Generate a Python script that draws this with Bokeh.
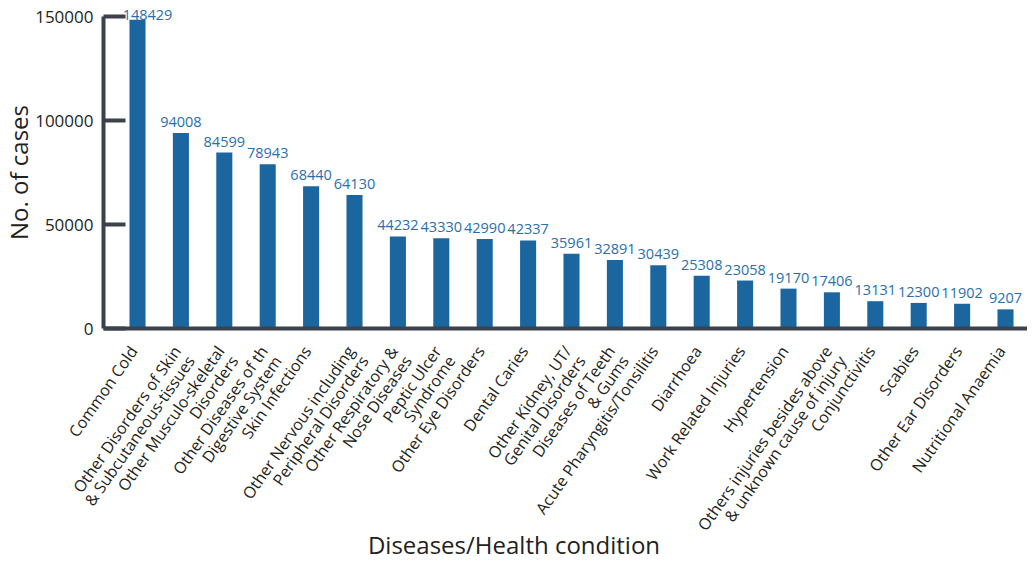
import math
from bokeh.plotting import figure
from bokeh.models import (ColumnDataSource, LabelSet, Range1d, FixedTicker,
                          NumeralTickFormatter, LinearAxis)
from bokeh.core.properties import value
from bokeh.embed import file_html
from bokeh.resources import INLINE

categories = [
    "Common Cold",
    "Other Disorders of Skin\n& Subcutaneous-tissues",
    "Other Musculo-skeletal\nDisorders",
    "Other Diseases of th\nDigestive System",
    "Skin Infections",
    "Other Nervous including\nPeripheral Disorders",
    "Other Respiratory &\nNose Diseases",
    "Peptic Ulcer\nSyndrome",
    "Other Eye Disorders",
    "Dental Caries",
    "Other Kidney, UT/\nGenital Disorders",
    "Diseases of Teeth\n& Gums",
    "Acute Pharyngitis/Tonsilitis",
    "Diarrhoea",
    "Work Related Injuries",
    "Hypertension",
    "Others injuries besides above\n& unknown cause of injury",
    "Conjunctivitis",
    "Scabies",
    "Other Ear Disorders",
    "Nutritional Anaemia",
]
cases = [148429, 94008, 84599, 78943, 68440, 64130, 44232, 43330, 42990, 42337,
         35961, 32891, 30439, 25308, 23058, 19170, 17406, 13131, 12300, 11902, 9207]
y_ticks = [0, 50000, 100000, 150000]

FONT = "Open Sans"
BAR = "#1c66a0"
LBL = "#2a6fab"
AX = "#3c4249"
TXT = "#231f20"

# layout in pixels
W, H = 1027, 562
AXIS_X_PX = 103          # where the value axis stands
FIRST_BAR_PX, LAST_BAR_PX = 137, 1005
Y0_PX, YMAX_PX = 328, 16
ANGLE = 0.96             # rotation of category names (radians)
LINE = 17                # spacing between the two lines of a name (px)

n = len(categories)
ppu = (LAST_BAR_PX - FIRST_BAR_PX) / (n - 1)
x_start = -FIRST_BAR_PX / ppu
x_end = x_start + W / ppu
x_axis_at = x_start + AXIS_X_PX / ppu

ymax = y_ticks[-1]
per_px = ymax / (Y0_PX - YMAX_PX)
y_end = ymax + YMAX_PX * per_px
y_start = -(H - Y0_PX) * per_px

pos = list(range(n))
first = [c.split("\n")[0] for c in categories]
second = [c.split("\n")[1] if "\n" in c else "" for c in categories]

top_value = max(cases)
x_off = [10 if v == top_value else 0 for v in cases]
y_off = [0 if v == top_value else 6 for v in cases]
src = ColumnDataSource(dict(x=pos, y=cases, t=[str(v) for v in cases], xo=x_off, yo=y_off,
                            l1=first, l2=second, zero=[0] * n))

p = figure(width=W, height=H, output_backend="svg", toolbar_location=None,
           x_range=Range1d(x_start, x_end), y_range=Range1d(y_start, y_end),
           x_axis_location=None, y_axis_location=None,
           min_border_left=0, min_border_right=0, min_border_top=0, min_border_bottom=0)
p.vbar(x="x", top="y", width=0.37, source=src, color=BAR, line_color=None)

vals = LabelSet(x="x", y="y", text="t", source=src, text_align="center",
                text_baseline="bottom", x_offset="xo", y_offset="yo",
                text_font=value(FONT), text_font_size="14.5px", text_color=LBL)
p.add_layout(vals)

dx1, dy1 = -13, -13
dx2 = dx1 + math.sin(ANGLE) * LINE
dy2 = dy1 - math.cos(ANGLE) * LINE
for col, dx, dy in (("l1", dx1, dy1), ("l2", dx2, dy2)):
    p.add_layout(LabelSet(x="x", y="zero", text=col, source=src, angle=ANGLE,
                          text_align="right", text_baseline="top", x_offset=dx, y_offset=dy,
                          text_font=value(FONT), text_font_size="16px", text_color=TXT))

p.grid.visible = False
p.outline_line_color = None
p.background_fill_color = "white"
p.border_fill_color = "white"

# value axis
ya = LinearAxis(fixed_location=x_axis_at, bounds=(0, ymax),
                ticker=FixedTicker(ticks=y_ticks), formatter=NumeralTickFormatter(format="0"))
ya.minor_tick_line_color = None
ya.major_tick_in = 22
ya.major_tick_out = 0
ya.major_tick_line_width = 4
ya.major_tick_line_color = AX
ya.axis_line_width = 4
ya.axis_line_color = AX
ya.major_label_text_font = FONT
ya.major_label_text_font_size = "17px"
ya.major_label_text_color = TXT
ya.major_label_standoff = 10
ya.axis_label = "No. of cases"
ya.axis_label_text_font = FONT
ya.axis_label_text_font_size = "24px"
ya.axis_label_text_font_style = "normal"
ya.axis_label_text_color = TXT
ya.axis_label_standoff = -3
p.add_layout(ya, "left")

# category axis line at y = 0
xa = LinearAxis(fixed_location=0, bounds=(x_axis_at, x_end), ticker=FixedTicker(ticks=[]))
xa.minor_tick_line_color = None
xa.major_tick_line_color = None
xa.axis_line_width = 4
xa.axis_line_color = AX
p.add_layout(xa, "below")

# category axis title
xt = LinearAxis(fixed_location=0, ticker=FixedTicker(ticks=[]))
xt.axis_line_color = None
xt.minor_tick_line_color = None
xt.major_tick_line_color = None
xt.axis_label = "Diseases/Health condition"
xt.axis_label_text_font = FONT
xt.axis_label_text_font_size = "24px"
xt.axis_label_text_font_style = "normal"
xt.axis_label_text_color = TXT
xt.axis_label_standoff = 199
p.add_layout(xt, "below")

open("out.html", "w").write(file_html(p, INLINE))
